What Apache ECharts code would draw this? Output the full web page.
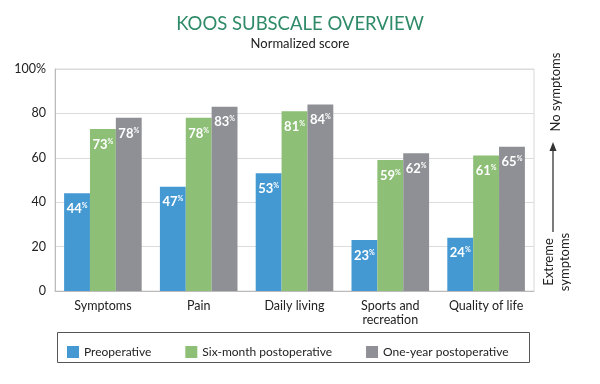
<!DOCTYPE html>
<html><head><meta charset="utf-8">
<script src="https://cdn.jsdelivr.net/npm/echarts@6/dist/echarts.min.js"></script>
<style>html,body{margin:0;padding:0;background:#fff}#c{width:600px;height:384px}</style>
</head><body><div id="c"></div>
<script>
var categories = ['Symptoms','Pain','Daily living','Sports and\nrecreation','Quality of life'];
var seriesNames = ['Preoperative','Six-month postoperative','One-year postoperative'];
var preoperative = [44,47,53,23,24];
var sixMonth = [73,78,81,59,61];
var oneYear = [78,83,84,62,65];
var yTicks = [0,20,40,60,80,100];
var colors = ['#4599d3','#8dbf77','#8f9095'];
var FONT = 'Lato';

var chart = echarts.init(document.getElementById('c'));
function mk(name, data, color){
  return {
    name: name, type: 'bar', data: data, barGap: '0%', barCategoryGap: '19%',
    itemStyle: {color: color},
    label: {show: true, position: 'insideTop', distance: 9,
      formatter: function(p){ return '{v|' + p.value + '}{p|%}'; },
      rich: {v: {color:'#fff', fontSize: 13, fontWeight: 'bold', fontFamily: FONT},
             p: {color:'#fff', fontSize: 7, fontWeight: 'bold', fontFamily: FONT, verticalAlign:'top', padding:[0,0,5,0]}}
    }
  };
}
chart.setOption({
  animation: false,
  textStyle: {fontFamily: FONT},
  title: {text: 'KOOS SUBSCALE OVERVIEW', subtext: 'Normalized score', left: 'center', top: 10, itemGap: 3,
    textStyle: {color: '#2e8a68', fontSize: 18.5, fontWeight: 'normal', fontFamily: FONT},
    subtextStyle: {color: '#222', fontSize: 13, fontFamily: FONT}},
  grid: {left: 55, right: 66, top: 69, bottom: 93, show: true, borderColor: '#d8d8d8', borderWidth: 1},
  legend: {left: 62, top: 341, itemWidth: 12, itemHeight: 12, itemGap: 34, icon: 'rect',
    textStyle: {fontSize: 12, color: '#222', fontFamily: FONT}, data: seriesNames},
  xAxis: {type: 'category', data: categories,
    axisLine: {lineStyle: {color: '#bbb'}}, axisTick: {show: false},
    axisLabel: {color: '#222', fontSize: 12.5, fontFamily: FONT, lineHeight: 14, margin: 8, interval: 0}},
  yAxis: {type: 'value', min: yTicks[0], max: yTicks[yTicks.length-1], interval: 20,
    axisLine: {show: true, lineStyle: {color: '#bbb'}}, axisTick: {show: false},
    splitLine: {lineStyle: {color: '#dcdcdc'}},
    axisLabel: {color: '#222', fontSize: 12.5, fontFamily: FONT, margin: 9,
      formatter: function(v){ return v === 100 ? '100%' : String(v); }}},
  graphic: [
    {type: 'rect', shape: {x: 57.5, y: 332.5, width: 472, height: 30}, style: {fill: 'none', stroke: '#555', lineWidth: 1}},
    {type: 'text', x: 556, y: 92, rotation: Math.PI/2,
      style: {text: 'No symptoms', fontSize: 13, fontFamily: FONT, fill: '#222', align: 'center', verticalAlign: 'middle'}},
    {type: 'text', x: 557, y: 262, rotation: Math.PI/2,
      style: {text: 'Extreme\nsymptoms', fontSize: 13, lineHeight: 16, fontFamily: FONT, fill: '#222', align: 'center', verticalAlign: 'middle'}},
    {type: 'line', shape: {x1: 553, y1: 232, x2: 553, y2: 150}, style: {stroke: '#333', lineWidth: 1.3}},
    {type: 'polygon', shape: {points: [[553,142],[549.5,151],[556.5,151]]}, style: {fill: '#333'}}
  ],
  series: [mk(seriesNames[0], preoperative, colors[0]), mk(seriesNames[1], sixMonth, colors[1]), mk(seriesNames[2], oneYear, colors[2])]
});
</script></body></html>
